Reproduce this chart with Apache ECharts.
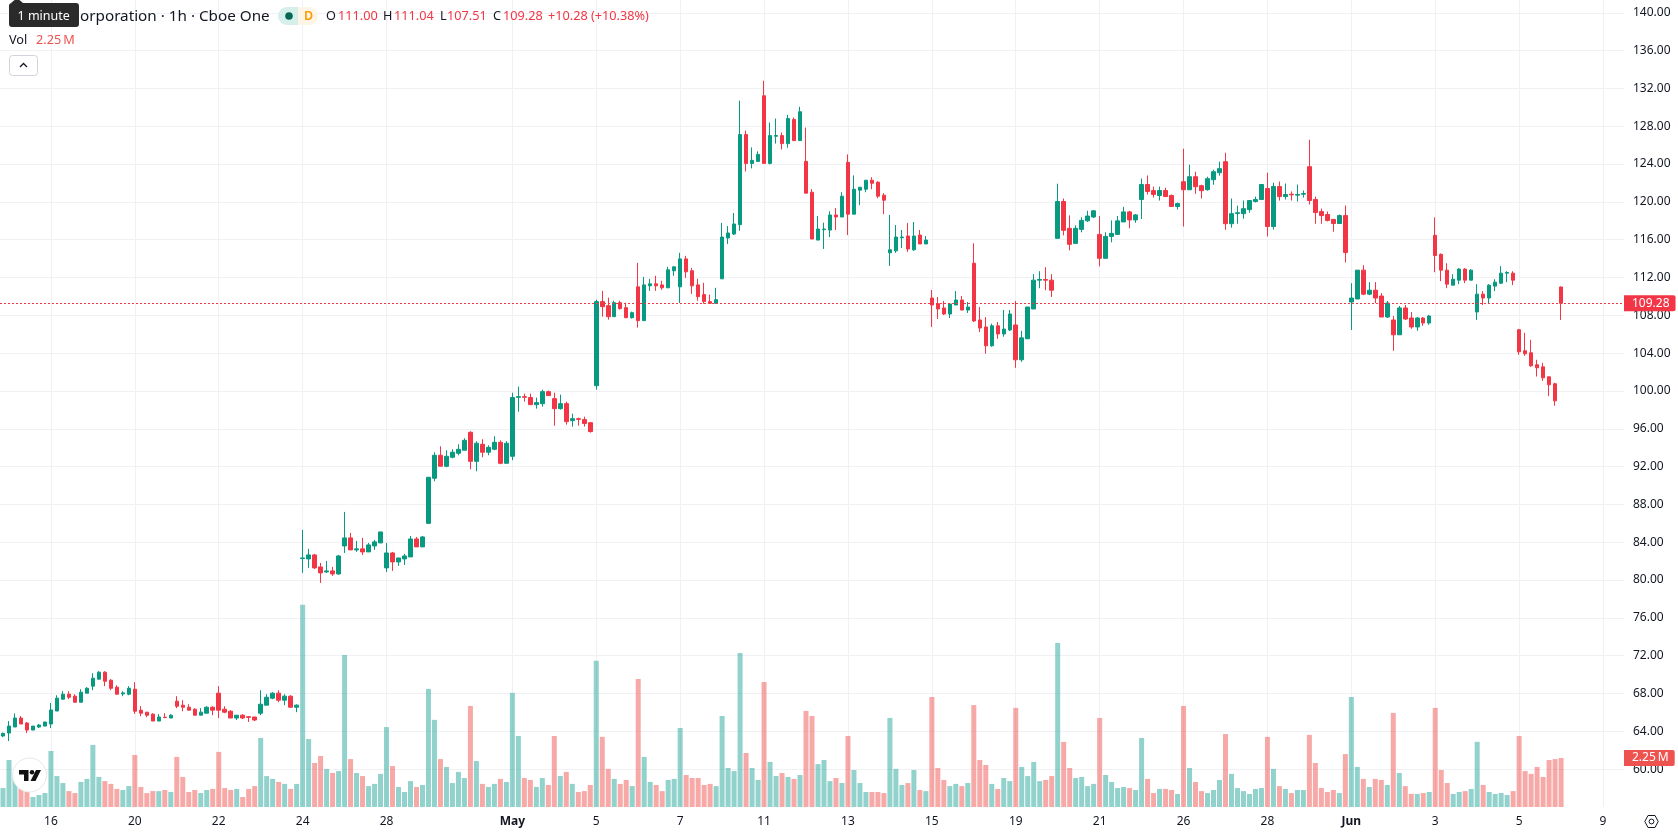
<!DOCTYPE html>
<html>
<head>
<meta charset="utf-8">
<title>Hourly candlestick chart</title>
<style>html,body{margin:0;padding:0;background:#fff}#chart{width:1678px;height:835px}</style>
<script src="https://cdn.jsdelivr.net/npm/echarts@6/dist/echarts.min.js"></script>
</head>
<body>
<div id="chart"></div>
<script>
// Hourly session bars: open, close, low, high in dollars, volume in millions of shares.
const opens = [
63.51,63.82,64.46,65.41,64.88,64.14,64.46,64.56,64.78,66.15,
67.40,67.93,67.72,67.08,68.04,68.78,69.52,70.26,69.41,68.67,
67.96,67.93,68.46,66.24,66.03,65.82,65.09,65.50,65.41,67.19,
66.77,66.55,66.34,65.71,65.92,66.55,68.04,66.34,66.13,65.41,
65.71,65.55,65.52,65.92,66.77,67.51,68.04,67.30,67.72,66.55,
82.27,82.24,82.66,81.39,80.86,80.97,80.65,83.61,84.46,83.19,
83.30,82.98,83.61,83.93,81.29,82.87,81.92,82.24,82.45,84.35,
83.51,86.00,90.77,93.20,92.04,92.99,93.41,93.73,95.63,92.56,
94.36,93.52,93.83,94.57,92.35,93.09,99.33,99.40,99.30,98.55,
98.66,99.93,99.19,98.13,98.66,96.86,97.07,96.97,96.65,100.56,
109.45,109.02,107.86,109.34,108.81,107.75,111.01,107.44,111.12,111.33,
111.22,110.91,112.71,111.01,113.97,112.71,111.22,110.19,109.45,109.27,
111.86,116.18,116.60,117.59,127.12,124.07,124.28,131.22,124.07,126.94,
127.01,126.16,128.71,126.48,124.28,121.02,115.96,117.06,117.02,118.61,
118.40,124.18,118.70,121.24,121.34,122.29,122.08,120.71,114.61,114.82,
116.21,116.39,114.93,116.49,115.55,109.83,109.23,108.78,108.14,109.09,
109.62,108.56,113.51,107.51,106.77,104.78,106.89,106.03,106.45,106.98,
103.30,105.52,108.67,111.72,111.79,111.72,116.14,120.04,117.20,115.61,
117.09,117.99,118.40,116.56,114.03,116.35,116.56,117.88,118.94,118.09,
120.25,121.84,121.20,120.67,121.20,120.67,119.51,122.13,121.28,122.66,
121.71,121.29,122.34,123.08,124.25,117.69,118.78,118.75,119.18,120.04,
120.25,121.41,117.39,121.62,120.56,120.81,120.71,120.81,123.72,120.25,
118.97,118.66,118.15,117.71,118.55,109.41,109.73,112.78,110.24,110.66,
110.04,107.82,107.51,105.94,108.78,107.72,106.77,107.72,107.19,116.46,
114.45,112.78,111.19,111.72,112.89,111.72,108.35,110.24,109.83,111.09,
111.40,112.46,112.46,106.47,104.25,104.04,102.77,102.55,101.50,100.76,111.00
];
const closes = [
63.79,64.56,65.41,64.78,64.14,64.56,64.67,64.99,66.26,67.51,
67.93,67.61,67.08,68.14,68.56,69.62,70.26,69.30,68.56,67.93,
68.07,68.56,66.13,65.92,65.71,65.09,65.52,65.45,65.71,66.66,
66.55,66.24,65.71,66.03,66.55,66.24,66.24,66.03,65.41,65.71,
65.41,65.48,65.20,66.87,67.61,68.04,67.30,67.72,66.55,66.77,
82.34,82.66,81.29,80.76,80.97,80.65,82.55,84.46,83.19,83.30,
82.98,83.72,84.04,85.09,82.87,81.92,82.34,82.55,84.35,83.51,
84.56,90.87,93.20,92.04,93.09,93.52,93.83,94.78,92.56,94.47,
93.52,94.04,94.57,92.35,94.47,99.30,99.40,99.33,98.55,98.77,
99.93,99.51,98.13,98.66,96.76,97.07,97.00,96.55,95.70,109.45,
108.92,107.86,109.34,108.71,107.75,108.28,107.44,111.22,111.33,111.12,
110.91,112.81,113.13,113.97,112.60,111.12,109.97,109.45,109.27,109.66,
116.28,116.71,117.66,127.12,124.07,124.39,125.02,124.07,127.01,127.01,
126.16,128.81,126.48,129.53,120.92,116.07,117.13,117.13,118.61,118.40,
120.60,118.70,121.34,121.55,122.29,121.97,120.60,120.18,114.93,116.28,
116.28,115.02,116.39,115.55,115.96,109.09,108.67,108.14,109.20,109.62,
108.56,108.88,107.40,106.66,104.78,106.89,106.03,106.55,108.14,103.30,
105.62,108.88,111.72,111.79,111.72,110.66,120.04,116.99,115.51,117.20,
118.04,118.50,119.05,114.03,116.35,116.67,117.99,118.94,118.09,118.62,
121.84,121.10,120.78,121.20,120.56,119.51,119.82,121.28,122.66,121.60,
121.18,122.45,123.19,123.51,117.69,118.75,118.85,119.28,120.14,120.25,
121.84,117.39,121.62,120.56,120.78,120.74,120.78,120.88,120.14,118.87,
118.55,118.04,117.71,118.55,114.64,109.83,112.78,110.24,110.66,109.83,
107.82,109.30,105.94,108.78,107.61,106.77,107.72,107.19,107.93,114.33,
112.78,111.30,111.82,112.89,111.72,112.78,110.24,109.83,111.19,111.51,
112.46,112.53,111.72,104.14,103.93,102.66,102.45,101.39,100.65,98.96,109.28
];
const highs = [
63.86,65.09,65.90,65.62,64.99,64.56,64.78,64.99,67.00,67.82,
68.25,68.25,67.93,68.46,68.67,70.15,70.36,70.36,69.52,68.88,
68.25,68.78,69.20,66.66,66.03,65.92,65.83,65.92,65.82,67.72,
67.30,66.87,66.45,66.45,66.66,66.66,68.78,66.66,66.24,65.71,
65.82,65.62,65.52,68.35,67.93,68.14,68.35,67.93,67.82,66.87,
85.30,83.30,82.77,81.81,82.03,81.39,82.66,87.21,84.99,84.14,
84.46,83.93,84.25,85.09,83.93,82.98,82.34,82.77,84.67,84.56,
84.67,90.87,93.52,94.15,93.73,93.83,94.36,95.00,95.74,94.68,
94.89,94.26,95.21,94.78,94.68,99.82,100.46,99.72,99.72,99.30,
100.14,100.04,99.82,99.61,98.87,97.60,97.18,97.28,96.65,109.66,
110.59,109.87,109.55,109.55,109.34,108.39,113.55,112.07,111.86,112.18,
111.65,113.13,113.13,114.61,114.29,113.02,111.86,111.44,110.19,110.91,
117.77,117.45,118.82,130.70,127.54,125.76,125.34,132.81,128.39,128.81,
127.33,129.21,128.92,130.06,127.86,121.34,118.50,117.80,119.01,119.34,
121.02,125.02,122.80,121.55,122.29,122.61,122.18,120.92,118.61,117.55,
117.02,117.77,117.87,117.02,116.39,110.68,109.94,109.52,109.30,110.57,
110.04,109.41,115.62,108.88,107.82,107.11,107.30,108.56,108.56,109.52,
106.36,108.88,112.35,112.67,113.09,112.35,121.92,120.35,118.57,117.52,
118.36,119.05,119.15,118.50,116.78,118.04,118.50,119.47,119.05,118.73,
122.47,122.79,121.62,121.62,121.50,120.78,119.93,125.62,123.93,123.19,
121.81,122.66,123.40,124.25,125.20,120.35,119.59,120.14,120.14,120.56,
121.84,123.08,122.03,122.15,121.94,121.10,121.83,121.20,126.57,120.56,
119.29,118.98,118.15,118.66,119.61,111.40,112.78,113.30,111.51,111.51,
110.35,109.52,107.93,108.99,109.09,108.35,107.82,107.82,108.04,118.36,
114.55,113.51,112.35,112.99,112.99,112.89,111.30,110.56,111.30,111.82,
113.20,112.67,112.67,106.57,106.15,105.41,103.30,102.98,101.50,100.87,111.04
];
const lows = [
63.40,62.98,64.46,64.78,63.82,64.14,64.35,64.56,64.35,66.15,
67.40,67.40,67.08,67.08,68.04,68.35,69.52,68.78,68.35,67.93,
67.72,67.82,65.85,65.60,65.50,65.09,65.09,65.41,65.41,66.45,
66.13,66.24,65.71,65.71,65.92,65.71,65.41,65.92,65.41,65.20,
65.30,64.99,65.09,65.71,66.77,67.40,67.08,66.77,66.55,66.03,
80.76,81.29,81.18,79.70,80.76,80.44,80.55,82.87,83.19,82.98,
82.66,82.98,83.19,83.93,80.86,80.97,81.50,81.60,82.45,83.51,
83.51,86.00,90.45,92.04,91.93,92.88,93.20,93.73,91.72,91.51,
92.99,93.20,93.73,92.25,92.35,92.67,97.81,98.87,98.55,98.13,
98.34,99.51,96.33,98.03,96.44,96.23,96.33,96.23,95.60,100.14,
107.86,107.54,107.86,108.60,107.75,107.65,106.70,107.44,110.59,110.59,
110.70,110.91,112.18,109.30,111.96,110.27,109.55,109.23,109.23,109.23,
111.86,115.55,116.49,116.95,123.22,123.54,124.28,124.07,123.96,126.16,
125.54,125.73,126.48,126.48,120.92,116.07,115.96,115.02,116.28,117.02,
118.40,116.49,118.70,119.65,121.02,121.34,120.39,118.70,113.23,114.61,
115.12,114.71,114.82,115.55,115.55,106.77,107.61,108.04,107.72,109.09,
108.56,108.25,107.30,106.24,103.93,104.67,105.52,105.73,106.34,102.45,
103.08,105.52,108.67,110.87,110.66,109.94,116.14,116.46,114.88,115.61,
116.78,117.88,118.29,113.18,114.03,115.72,116.56,117.88,117.20,117.78,
118.19,120.78,120.46,120.14,120.56,119.51,119.19,117.39,121.28,120.85,
120.35,121.18,121.81,122.77,117.05,117.27,117.69,118.22,118.85,119.93,
120.25,116.35,117.07,120.14,120.25,120.14,120.04,120.46,119.72,117.69,
117.69,117.93,116.85,117.71,113.58,106.45,109.73,110.13,110.13,109.30,
107.82,107.72,104.25,105.94,107.51,106.57,106.36,106.89,107.00,112.56,
111.61,110.87,111.19,111.30,111.40,111.72,107.51,109.09,109.30,110.56,
111.30,111.51,111.19,103.82,103.72,102.55,101.53,101.07,99.45,98.44,107.51
];
const volumes = [
.87,2.16,1.38,.83,.69,.46,.55,.64,2.57,1.42,
1.10,.73,.64,1.15,1.29,2.85,1.38,1.19,1.06,.83,
.78,.96,2.39,.92,.64,.73,.73,.78,.69,2.30,
1.38,.69,.78,.64,.78,.83,2.53,.87,.78,.83,
.46,.83,.96,3.17,1.42,1.29,1.15,1.06,.83,1.06,
9.28,3.12,2.02,2.34,1.75,1.56,1.65,6.98,2.20,1.56,
1.42,.96,1.06,1.52,3.67,1.88,.92,.69,1.19,.92,
1.01,5.42,4.00,2.20,1.84,1.10,1.61,1.33,4.64,2.11,
1.06,.92,1.06,1.29,1.15,5.24,3.26,1.33,1.24,.92,
1.33,1.01,3.26,1.42,1.61,1.06,.69,.73,1.01,6.71,
3.22,1.75,1.29,1.06,1.24,.96,5.88,2.30,1.15,1.01,
.73,1.24,1.29,3.63,1.47,1.33,1.33,1.01,1.06,.96,
4.18,1.79,1.65,7.07,2.48,1.79,1.24,5.74,2.07,1.42,
1.56,1.38,1.29,1.47,4.41,4.18,1.97,2.16,1.19,1.33,
1.10,3.26,1.70,1.10,.69,.69,.69,.64,4.09,1.75,
1.01,1.10,1.70,.78,.73,5.05,1.79,1.24,.96,1.06,
.96,1.10,4.68,2.16,1.93,1.06,.83,1.33,1.19,4.55,
1.84,1.42,2.07,1.19,1.24,1.42,7.53,2.99,1.79,1.33,
1.38,.96,1.06,4.09,1.47,1.15,.87,.92,.87,.78,
3.17,1.29,.64,.83,.83,.78,.60,4.64,1.79,1.15,
.73,.64,.78,1.24,3.35,1.52,.87,.73,.60,.83,
.87,3.22,1.75,.96,.83,.64,.78,.78,3.31,2.02,
.87,.69,.78,.64,2.43,5.05,1.84,1.29,.92,1.29,
1.24,1.01,4.32,1.56,.96,.60,.60,.64,.69,4.55,
1.70,1.10,.60,.69,.73,.83,2.99,1.01,.69,.60,
.64,.55,.73,3.26,1.65,1.52,1.84,1.38,2.16,2.20,2.25
];

// Date ticks and the bar each one sits on; the axis runs ten empty slots past the last bar.
const tickNames = ['16','20','22','24','28','May','5','7','11','13','15','19','21','26','28','Jun','3','5','9'];
const tickBars = [8,22,36,50,64,85,99,113,127,141,155,169,183,197,211,225,239,253,267];
const emptySlots = 10;
const lastPrice = 109.28;
const lastVolume = 2.25;

const UP = '#089981', DOWN = '#F23645', VOL_DOWN = '#EF5350';
const FONT = '"Noto Sans", sans-serif';
const TEXT = '#131722', GRID = '#F0F1F4';
const HEAD = 12.7;

const slotCount = opens.length + emptySlots;
const categories = Array.from({length: slotCount}, () => '');
tickBars.forEach((bar, i) => { categories[bar] = tickNames[i]; });

const candles = opens.map((o, i) => [o, closes[i], lows[i], highs[i]]);
const volumeBars = volumes.map((v, i) => ({
  value: v,
  itemStyle: {color: closes[i] >= opens[i] ? 'rgba(38,166,154,0.5)' : 'rgba(239,83,80,0.5)'}
}));
const isTick = (index) => categories[index] !== '';

// Header and corner furniture, placed in pixels over the plot.
const label = (x, y, text, fill, size, z, weight) => ({
  type: 'text', x, y, z: z || 100,
  style: {text, fill, font: (weight || 'normal') + ' ' + (size || HEAD) + 'px ' + FONT, verticalAlign: 'middle'}
});
const ROW1 = 16.6, ROW2 = 40.6;
const overlay = [
  {type: 'rect', z: 90, shape: {x: 278, y: 7, width: 21, height: 18, r: [9, 0, 0, 9]}, style: {fill: '#D6EFEA'}},
  {type: 'rect', z: 90, shape: {x: 298, y: 7, width: 20, height: 18, r: [0, 9, 9, 0]}, style: {fill: '#FFF5E6'}},
  {type: 'circle', z: 100, shape: {cx: 289, cy: 16, r: 3.8}, style: {fill: '#056656'}},
  label(304, ROW1, 'D', '#FF9800', 12.5, 100, '600'),
  label(80, ROW1, 'orporation · 1h · Cboe One', TEXT, 15.25),
  label(326, ROW1, 'O', TEXT), label(338, ROW1, '111.00', DOWN),
  label(383, ROW1, 'H', TEXT), label(394, ROW1, '111.04', DOWN),
  label(440, ROW1, 'L', TEXT), label(447, ROW1, '107.51', DOWN),
  label(493, ROW1, 'C', TEXT), label(503, ROW1, '109.28', DOWN),
  label(548, ROW1, '+10.28 (+10.38%)', DOWN),
  label(9, ROW2, 'Vol', TEXT),
  label(36, ROW2, '2.25\u2009M', VOL_DOWN),
  {type: 'rect', z: 100, shape: {x: 9.5, y: 55.5, width: 28, height: 20, r: 3}, style: {fill: '#fff', stroke: '#D1D4DC', lineWidth: 1}},
  {type: 'polyline', z: 101, shape: {points: [[20, 67], [23.5, 63.5], [27, 67]]}, style: {fill: 'none', stroke: TEXT, lineWidth: 1.3}},
  // tooltip box
  {type: 'rect', z: 110, shape: {x: 9, y: 3, width: 70, height: 24, r: 3}, style: {fill: '#2A2A2A'}},
  {type: 'polygon', z: 110, shape: {points: [[11, 3], [17, -2], [23, 3]]}, style: {fill: '#2A2A2A'}},
  label(17.5, 16, '1 minute', '#fff', 12.5, 120),
  // round badge with the brand mark, lower left
  {type: 'circle', z: 90, shape: {cx: 29.5, cy: 775, r: 17}, style: {fill: '#fff', stroke: '#E8E8E8', lineWidth: 1}},
  {type: 'polygon', z: 91, shape: {points: [[19, 770], [28.5, 770], [28.5, 781], [24, 781], [24, 774.5], [19, 774.5]]}, style: {fill: '#111'}},
  {type: 'circle', z: 91, shape: {cx: 32, cy: 772.3, r: 2.3}, style: {fill: '#111'}},
  {type: 'polygon', z: 91, shape: {points: [[36, 770], [41, 770], [35.5, 781], [30.5, 781]]}, style: {fill: '#111'}},
  // settings hexagon, lower right
  {type: 'polygon', z: 100, shape: {points: [[1644.8, 821.5], [1648, 815.5], [1655, 815.5], [1658.2, 821.5], [1655, 827.5], [1648, 827.5]]}, style: {fill: 'none', stroke: TEXT, lineWidth: 1}},
  {type: 'circle', z: 100, shape: {cx: 1651.5, cy: 821.5, r: 2.4}, style: {fill: 'none', stroke: TEXT, lineWidth: 1}}
];

const chart = echarts.init(document.getElementById('chart'), null, {renderer: 'canvas'});
chart.setOption({
  animation: false,
  backgroundColor: '#fff',
  textStyle: {fontFamily: FONT},
  grid: {left: -2, top: 0, width: 1626, height: 807, containLabel: false},
  xAxis: {
    type: 'category',
    data: categories,
    boundaryGap: true,
    axisLine: {show: false},
    axisTick: {show: false},
    axisLabel: {
      interval: isTick, margin: 9, fontSize: 12, fontFamily: FONT, color: TEXT,
      formatter: (v) => (v === 'May' || v === 'Jun') ? '{m|' + v + '}' : v,
      rich: {m: {fontWeight: 'bold', fontSize: 12, fontFamily: FONT, color: TEXT}}
    },
    splitLine: {show: true, interval: isTick, alignWithLabel: true, lineStyle: {color: GRID, width: 1}}
  },
  yAxis: [
    {
      type: 'value', position: 'right', min: 56, max: 141.35, interval: 4,
      axisLine: {show: false}, axisTick: {show: false},
      axisLabel: {
        margin: 9, fontSize: 12, fontFamily: FONT, color: TEXT,
        showMinLabel: false, showMaxLabel: false,
        formatter: (v) => v.toFixed(2)
      },
      splitLine: {show: true, showMinLine: false, showMaxLine: false, lineStyle: {color: GRID, width: 1}}
    },
    {type: 'value', min: 0, max: 37.05, show: false, splitLine: {show: false}}
  ],
  series: [
    {
      type: 'bar', name: 'Vol', yAxisIndex: 1, barWidth: 5, data: volumeBars, z: 1, silent: true,
      markLine: {
        silent: true, symbol: 'none', z: 20,
        lineStyle: {color: 'rgba(239,83,80,0)', width: 1},
        label: {
          show: true, position: 'end', distance: 0, formatter: '2.25\u2009M', color: '#fff', fontFamily: FONT, fontSize: 12,
          backgroundColor: VOL_DOWN, padding: [2, 6, 2, 8], borderRadius: [0, 2, 2, 0]
        },
        data: [{yAxis: lastVolume}]
      }
    },
    {
      type: 'candlestick', name: 'Price', yAxisIndex: 0, barWidth: 4, data: candles, z: 5, silent: true,
      itemStyle: {color: UP, color0: DOWN, borderColor: UP, borderColor0: DOWN, borderWidth: 1},
      markLine: {
        silent: true, symbol: 'none', z: 21,
        lineStyle: {color: DOWN, width: 1, type: [2, 2]},
        label: {
          position: 'end', distance: 0, formatter: (p) => p.value.toFixed(2), color: '#fff', fontFamily: FONT, fontSize: 12,
          backgroundColor: DOWN, padding: [2, 6, 2, 8], borderRadius: [0, 2, 2, 0]
        },
        data: [{yAxis: lastPrice}]
      }
    }
  ],
  graphic: overlay
});
</script>
</body>
</html>
